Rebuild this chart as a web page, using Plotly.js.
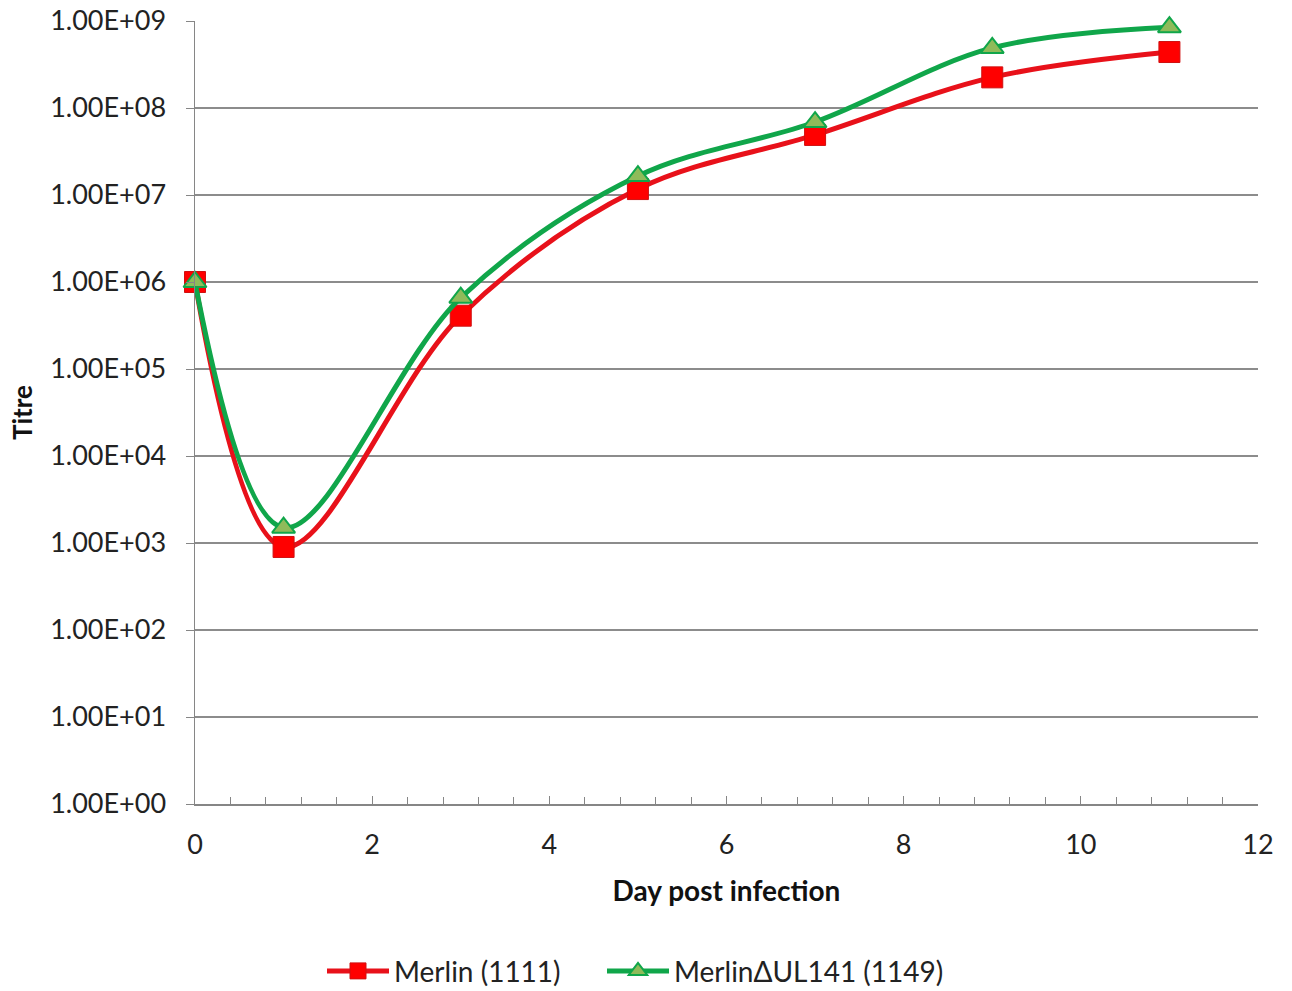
<!DOCTYPE html>
<html><head><meta charset="utf-8">
<script src="https://cdn.plot.ly/plotly-3.0.1.min.js"></script>
<style>html,body{margin:0;padding:0;background:#fff}#chart{width:1292px;height:991px}</style>
</head><body><div id="chart"></div>
<script>
const days = [0, 1, 3, 5, 7, 9, 11];
const merlin = [1.0e6, 900, 4.1e5, 1.17e7, 4.9e7, 2.25e8, 4.4e8];
const merlinDUL141 = [1.0e6, 1500, 6.6e5, 1.65e7, 6.9e7, 4.9e8, 8.5e8];
const yTickVals = [1, 10, 100, 1e3, 1e4, 1e5, 1e6, 1e7, 1e8, 1e9];
const yTickText = ["1.00E+00","1.00E+01","1.00E+02","1.00E+03","1.00E+04","1.00E+05","1.00E+06","1.00E+07","1.00E+08","1.00E+09"];
const xTickVals = [0, 2, 4, 6, 8, 10, 12];

const font = "Lato, 'Open Sans', sans-serif";
const traces = [
  {x: days, y: merlin, name: "Merlin (1111)", mode: "lines+markers", cliponaxis: false, legend: "legend",
   line: {color: "#e8111a", width: 5, shape: "spline", smoothing: 1},
   marker: {symbol: "square", size: 21, color: "#ff0000", line: {color: "#d01010", width: 1}}},
  {x: days, y: merlinDUL141, name: "MerlinΔUL141 (1149)", mode: "lines+markers", cliponaxis: false, legend: "legend2",
   line: {color: "#10a64a", width: 5, shape: "spline", smoothing: 1},
   marker: {symbol: "triangle-up", size: 20, color: "#8fbb5a", line: {color: "#10a64a", width: 2}}}
];
const legendBase = {orientation: "h", xanchor: "left", xref: "container",
  y: 0.02, yanchor: "middle", yref: "container", itemwidth: 62,
  font: {family: font, size: 28, color: "#222"}, bgcolor: "rgba(0,0,0,0)"};
const layout = {
  width: 1292, height: 991,
  margin: {l: 195, r: 34, t: 21, b: 187},
  paper_bgcolor: "#fff", plot_bgcolor: "#fff",
  font: {family: font, size: 26, color: "#222"},
  showlegend: true,
  legend: Object.assign({}, legendBase, {x: 322 / 1292}),
  legend2: Object.assign({}, legendBase, {x: 602 / 1292}),
  xaxis: {range: [0, 12], tickvals: xTickVals, ticktext: xTickVals.map(String), automargin: false,
          showgrid: false, zeroline: false, showline: true, linecolor: "#868686", linewidth: 1.5,
          ticks: "inside", ticklen: 8, tickcolor: "#868686",
          minor: {dtick: 0.4, tick0: 0, ticks: "inside", ticklen: 7, tickcolor: "#868686", showgrid: false},
          tickfont: {family: font, size: 27, color: "#222"}, ticklabelstandoff: 16,
          title: {text: "<b>Day post infection</b>", font: {family: font, size: 28, color: "#111"}, standoff: 22}},
  yaxis: {type: "log", range: [0, 9], tickvals: yTickVals, ticktext: yTickText, automargin: false,
          showgrid: true, gridcolor: "#8c8c8c", gridwidth: 1.5, zeroline: false,
          showline: true, linecolor: "#868686", linewidth: 1.5,
          ticks: "outside", ticklen: 8, tickcolor: "#868686",
          tickfont: {family: font, size: 27, color: "#222"}, ticklabelstandoff: 14,
          title: {text: "<b>Titre</b>", font: {family: font, size: 26, color: "#111"}, standoff: 10}}
};
Plotly.newPlot("chart", traces, layout, {displayModeBar: false, staticPlot: true});
</script></body></html>
